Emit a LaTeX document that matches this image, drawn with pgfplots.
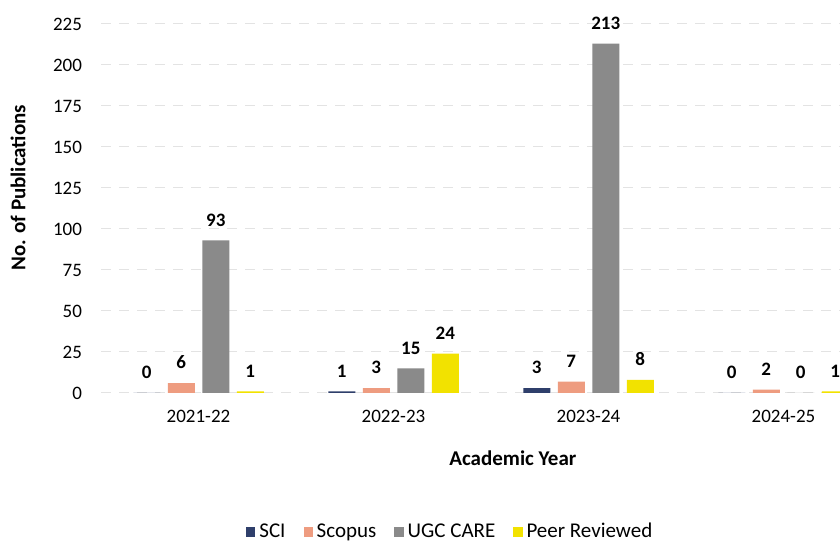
\documentclass[border=0pt]{standalone}
\usepackage{fontspec}
\setmainfont{Carlito}
\usepackage{pgfplots}
\pgfplotsset{compat=1.18}

\definecolor{sci}{HTML}{2F3F6B}
\definecolor{scopus}{HTML}{EE9C80}
\definecolor{ugc}{HTML}{8A8A8A}
\definecolor{peer}{HTML}{F2E200}

\begin{document}
\begin{tikzpicture}
\fill[white] (0,0) rectangle (420pt,272pt);
\begin{axis}[
  at={(50.5pt,75.5pt)}, anchor=south west,
  scale only axis, width=390pt, height=184.5pt,
  xmin=-0.5, xmax=3.5, ymin=0, ymax=225,
  ybar=3.75pt, bar width=13.5pt,
  xtick={0,1,2,3}, xticklabels={2021-22,2022-23,2023-24,2024-25},
  ytick={0,25,...,225},
  axis line style={draw=none},
  major tick length=0pt,
  ymajorgrids, grid style={gray!22, dash pattern=on 5pt off 4pt, line width=0.5pt},
  tick label style={font=\fontsize{9.5}{11}\selectfont},
  /pgf/number format/assume math mode=true,
  yticklabel style={xshift=-6pt},
  xticklabel style={yshift=-5pt},
  nodes near coords,
  nodes near coords style={font=\fontsize{9.5}{11}\selectfont\bfseries, text=black, yshift=3.5pt},
  xlabel={Academic Year},
  xlabel style={at={(axis description cs:0.528,0)}, anchor=center, yshift=-32.5pt, font=\fontsize{10.5}{12}\selectfont\bfseries},
  ylabel={No. of Publications},
  ylabel style={at={(axis description cs:-0.1064,0.556)}, anchor=center, rotate=0, font=\fontsize{10.5}{12}\selectfont\bfseries},
  legend style={at={(axis description cs:0.449,0)}, anchor=center, yshift=-69.5pt, legend columns=-1, draw=none, fill=none,
    font=\fontsize{10.5}{12}\selectfont, /tikz/every even column/.append style={column sep=7pt}},
  every axis plot post/.append style={legend image code/.code={\fill[##1] (0pt,-2.3pt) rectangle (4.6pt,2.3pt);}},
  clip=false,
]
\addplot[fill=sci, draw=none] coordinates {(0,0) (1,1) (2,3) (3,0)};
\addplot[fill=scopus, draw=none] coordinates {(0,6) (1,3) (2,7) (3,2)};
\addplot[fill=ugc, draw=none] coordinates {(0,93) (1,15) (2,213) (3,0)};
\addplot[fill=peer, draw=none] coordinates {(0,1) (1,24) (2,8) (3,1)};
\legend{SCI, Scopus, UGC CARE, Peer Reviewed}
\end{axis}
\pgfresetboundingbox
\path[use as bounding box] (0,0) rectangle (420pt,272pt);
\end{tikzpicture}
\end{document}
